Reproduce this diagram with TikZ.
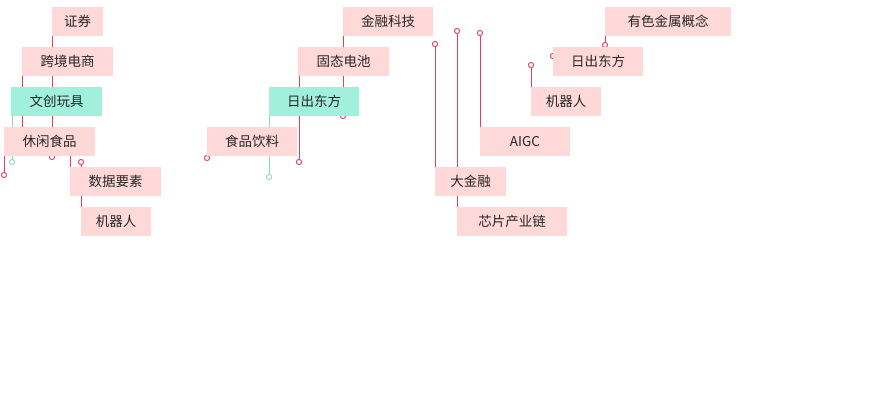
\documentclass[tikz,border=0pt]{standalone}
\usepackage{fontspec}
\newfontfamily\cjk{Noto Sans CJK SC}
\definecolor{lr}{HTML}{E0405A}
\definecolor{pk}{HTML}{FFD8D8}
\definecolor{gn}{HTML}{A0F0DC}
\definecolor{gl}{HTML}{8ED9C3}
\begin{document}
\begin{tikzpicture}[x=1pt,y=-1pt,
  lbl/.style={fill=pk,minimum height=29pt,inner sep=0pt,font=\cjk\fontsize{13.5}{14}\selectfont,text=black!85},
  glbl/.style={lbl,fill=gn},
  ln/.style={draw=lr,line width=0.9pt},
  gln/.style={draw=gl,line width=0.9pt},
  dot/.style={circle,draw=lr,fill=white,line width=0.8pt,inner sep=0pt,minimum size=5pt},
  gdot/.style={dot,draw=gl}]
\useasboundingbox (0,0) rectangle (890,400);
% circles
\node[dot] (c1) at (52,157) {};
\node[dot] (c2) at (22,140) {};
\node[gdot] (c3) at (12,162) {};
\node[dot] (c4) at (4,175) {};
\node[dot] (c5) at (70,145) {};
\node[dot] (c6) at (81,162) {};
\node[dot] (c7) at (343,116) {};
\node[dot] (c8) at (299,162) {};
\node[gdot] (c9) at (269,177) {};
\node[dot] (c10) at (207,158) {};
\node[dot] (c11) at (435,44) {};
\node[dot] (c12) at (457,31) {};
\node[dot] (c13) at (480,33) {};
\node[dot] (c14) at (531,65) {};
\node[dot] (c15) at (553,56) {};
\node[dot] (c16) at (605,45) {};
% anchor coords
\coordinate (a1) at (52,36); \coordinate (a2) at (22,76); \coordinate (a3) at (12,116);
\coordinate (a4) at (4,156); \coordinate (a5) at (70,167); \coordinate (a6) at (81,207);
\coordinate (a7) at (343,36); \coordinate (a8) at (299,76); \coordinate (a9) at (269,116);
\coordinate (a10) at (207,156); \coordinate (a11) at (435,167); \coordinate (a12) at (457,207);
\coordinate (a13) at (480,127); \coordinate (a14) at (531,87); \coordinate (a15) at (553,47);
\coordinate (a16) at (605,36);
\foreach \i in {1,2,4,5,6,7,8,10,11,12,13,14,15,16} {\draw[ln] (a\i) -- (c\i.center);}
\foreach \i in {3,9} {\draw[gln] (a\i) -- (c\i.center);}
\foreach \i in {1,2,4,5,6,7,8,10,11,12,13,14,15,16} {\node[dot] at (c\i) {};}
\foreach \i in {3,9} {\node[gdot] at (c\i) {};}
% labels
\node[lbl,minimum width=51pt] (l1) at (77.5,21.5) {证券};
\node[lbl,minimum width=91pt] (l2) at (67.5,61.5) {跨境电商};
\node[glbl,minimum width=91pt] (l3) at (56.5,101.5) {文创玩具};
\node[lbl,minimum width=91pt] (l4) at (49.5,141.5) {休闲食品};
\node[lbl,minimum width=91pt] (l5) at (115.5,181.5) {数据要素};
\node[lbl,minimum width=70pt] (l6) at (116,221.5) {机器人};
\node[lbl,minimum width=90pt] (l7) at (388,21.5) {金融科技};
\node[lbl,minimum width=91pt] (l8) at (343.5,61.5) {固态电池};
\node[glbl,minimum width=90pt] (l9) at (314,101.5) {日出东方};
\node[lbl,minimum width=90pt] (l10) at (252,141.5) {食品饮料};
\node[lbl,minimum width=71pt] (l11) at (470.5,181.5) {大金融};
\node[lbl,minimum width=110pt] (l12) at (512,221.5) {芯片产业链};
\node[lbl,minimum width=90pt] (l13) at (525,141.5) {AIGC};
\node[lbl,minimum width=70pt] (l14) at (566,101.5) {机器人};
\node[lbl,minimum width=90pt] (l15) at (598,61.5) {日出东方};
\node[lbl,minimum width=126pt] (l16) at (668,21.5) {有色金属概念};
\end{tikzpicture}
\end{document}
